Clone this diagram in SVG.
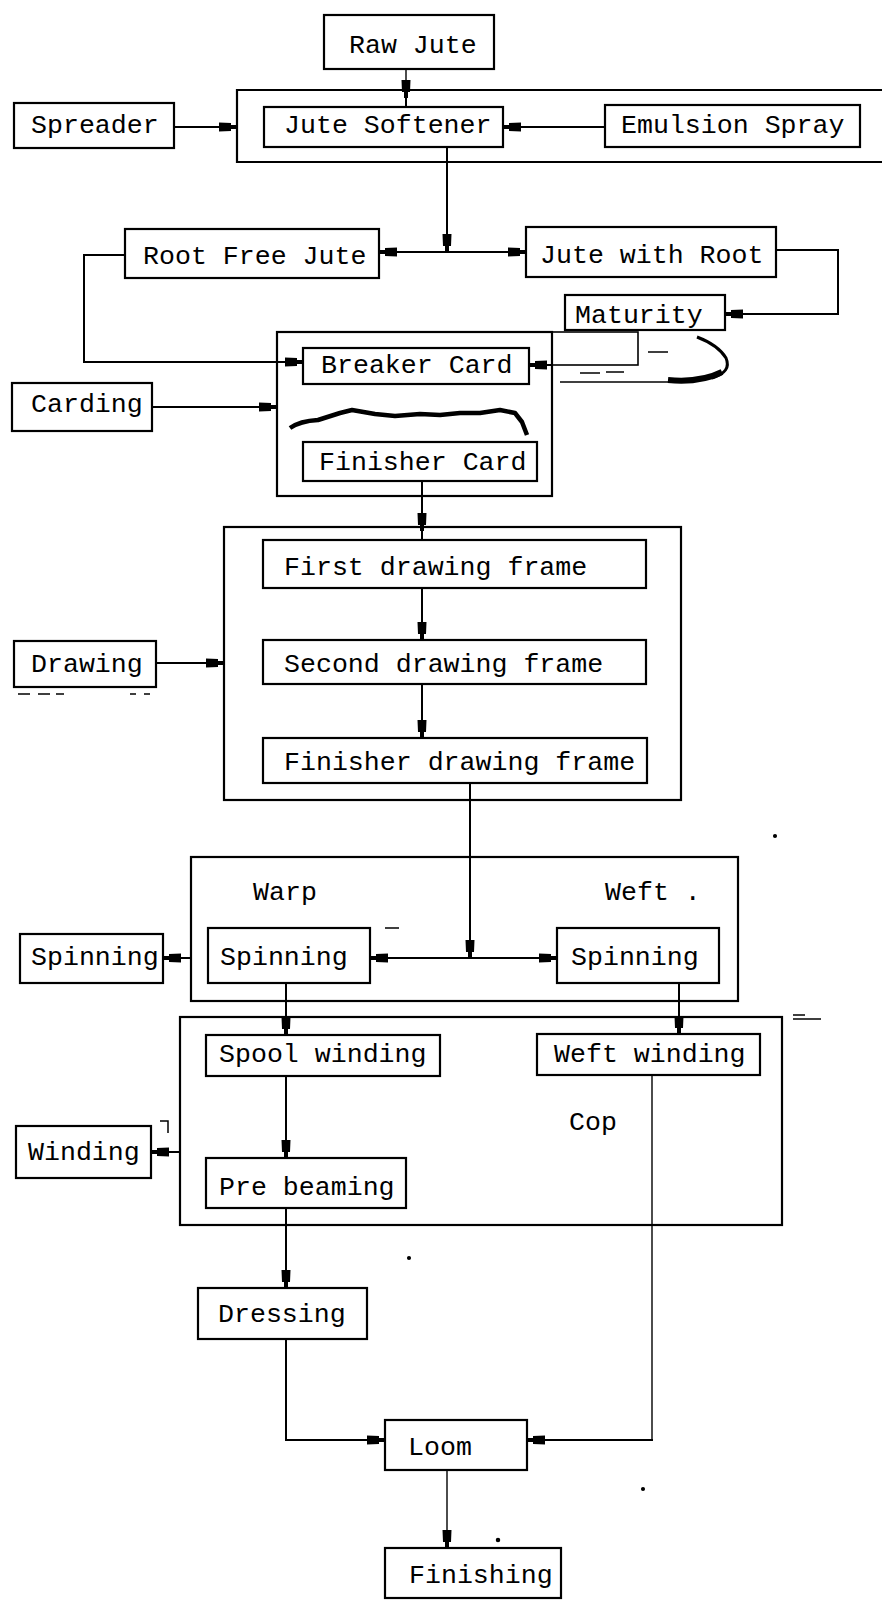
<svg xmlns="http://www.w3.org/2000/svg" width="882" height="1602" viewBox="0 0 882 1602">
<style>
.box{fill:#fff;stroke:#000;stroke-width:2.2}
.grp{fill:none;stroke:#000;stroke-width:2.2}
.t{font-family:"Liberation Mono","DejaVu Sans Mono",monospace;font-size:26.6px;fill:#000}
.c{fill:none;stroke:#000;stroke-width:2}
.thin{fill:none;stroke:#000;stroke-width:1.4}
.n{fill:none;stroke:#000;stroke-width:1.6}
</style>
<defs>
<marker id="a" markerUnits="userSpaceOnUse" markerWidth="20" markerHeight="12" viewBox="0 -6 20 12" refX="18" refY="0" orient="auto">
<path d="M0,-4.5 L12,-4 L12,-2 L18,-2 L18,2 L12,2 L12,4 L0,4.5 Z" fill="#000"/>
</marker>
</defs>
<rect width="882" height="1602" fill="#fff"/>

<!-- group frames -->
<g id="frame-softener"><path class="grp" d="M884,90 H237 V162 H884"/></g>
<g id="frame-carding"><rect class="grp" x="277" y="332" width="275" height="164"/></g>
<g id="frame-drawing"><rect class="grp" x="224" y="527" width="457" height="273"/></g>
<g id="frame-spinning"><rect class="grp" x="191" y="857" width="547" height="144"/></g>
<g id="frame-winding"><rect class="grp" x="180" y="1017" width="602" height="208"/></g>

<!-- nodes -->
<g id="raw-jute"><rect class="box" x="324" y="15" width="170" height="54"/><text class="t" x="349" y="53">Raw Jute</text></g>
<g id="spreader"><rect class="box" x="14" y="103" width="160" height="45"/><text class="t" x="31" y="133">Spreader</text></g>
<g id="jute-softener"><rect class="box" x="264" y="107" width="239" height="40"/><text class="t" x="284" y="133">Jute Softener</text></g>
<g id="emulsion-spray"><rect class="box" x="605" y="105" width="255" height="42"/><text class="t" x="621" y="133">Emulsion Spray</text></g>
<g id="root-free-jute"><rect class="box" x="125" y="229" width="254" height="49"/><text class="t" x="143" y="264">Root Free Jute</text></g>
<g id="jute-with-root"><rect class="box" x="526" y="227" width="250" height="50"/><text class="t" x="540" y="263">Jute with Root</text></g>
<g id="maturity"><rect class="box" x="565" y="295" width="160" height="35"/><text class="t" x="575" y="323">Maturity</text></g>
<g id="breaker-card"><rect class="box" x="303" y="348" width="226" height="36"/><text class="t" x="321" y="373">Breaker Card</text></g>
<g id="carding"><rect class="box" x="12" y="383" width="140" height="48"/><text class="t" x="31" y="412">Carding</text></g>
<g id="finisher-card"><rect class="box" x="303" y="442" width="234" height="39"/><text class="t" x="319" y="470">Finisher Card</text></g>
<g id="first-drawing"><rect class="box" x="263" y="540" width="383" height="48"/><text class="t" x="284" y="575">First drawing frame</text></g>
<g id="drawing"><rect class="box" x="14" y="641" width="142" height="46"/><text class="t" x="31" y="672">Drawing</text></g>
<g id="second-drawing"><rect class="box" x="263" y="640" width="383" height="44"/><text class="t" x="284" y="672">Second drawing frame</text></g>
<g id="finisher-drawing"><rect class="box" x="263" y="738" width="384" height="45"/><text class="t" x="284" y="770">Finisher drawing frame</text></g>
<g id="warp-label"><text class="t" x="253" y="900">Warp</text></g>
<g id="weft-label"><text class="t" x="605" y="900">Weft .</text></g>
<g id="spinning-left"><rect class="box" x="20" y="934" width="143" height="49"/><text class="t" x="31" y="965">Spinning</text></g>
<g id="warp-spinning"><rect class="box" x="208" y="928" width="162" height="55"/><text class="t" x="220" y="965">Spinning</text></g>
<g id="weft-spinning"><rect class="box" x="557" y="928" width="162" height="55"/><text class="t" x="571" y="965">Spinning</text></g>
<g id="spool-winding"><rect class="box" x="206" y="1035" width="234" height="41"/><text class="t" x="219" y="1062">Spool winding</text></g>
<g id="weft-winding"><rect class="box" x="537" y="1034" width="223" height="41"/><text class="t" x="554" y="1062">Weft winding</text></g>
<g id="cop-label"><text class="t" x="569" y="1130">Cop</text></g>
<g id="winding"><rect class="box" x="16" y="1126" width="135" height="52"/><text class="t" x="28" y="1160">Winding</text></g>
<g id="pre-beaming"><rect class="box" x="206" y="1158" width="200" height="50"/><text class="t" x="219" y="1195">Pre beaming</text></g>
<g id="dressing"><rect class="box" x="198" y="1288" width="169" height="51"/><text class="t" x="218" y="1322">Dressing</text></g>
<g id="loom"><rect class="box" x="385" y="1420" width="142" height="50"/><text class="t" x="408" y="1455">Loom</text></g>
<g id="finishing"><rect class="box" x="385" y="1548" width="176" height="50"/><text class="t" x="409" y="1583">Finishing</text></g>

<!-- connectors -->
<g id="connectors">
<path class="thin" d="M406,69 V98" marker-end="url(#a)"/>
<path class="c" d="M406,97 V107"/>
<path class="c" d="M174,127 H237" marker-end="url(#a)"/>
<path class="c" d="M605,127 H503" marker-end="url(#a)"/>
<path class="c" d="M447,147 V252" marker-end="url(#a)"/>
<path class="c" d="M447,252 H379" marker-end="url(#a)"/>
<path class="c" d="M447,252 H526" marker-end="url(#a)"/>
<path class="c" d="M776,250 H838 V314 H725" marker-end="url(#a)"/>
<path class="c" d="M125,255 H84 V362 H303" marker-end="url(#a)"/>
<rect class="n" x="552" y="332" width="86" height="33"/>
<path class="c" d="M552,365 H529" marker-end="url(#a)"/>
<path class="n" d="M560,382 H672"/>
<path fill="none" stroke="#000" stroke-width="3" d="M697,337 Q718,345 726,358 Q732,372 712,378"/>
<path fill="none" stroke="#000" stroke-width="6" d="M668,380 Q700,383 722,372"/>
<path fill="none" stroke="#000" stroke-width="4.5" stroke-linejoin="round" d="M290,428 Q300,421 318,420 L340,413 L352,410 L375,414 L395,416 L420,414 L440,415 L460,413 L480,413 L500,410 L515,413 L522,422 L527,435"/>
<path class="c" d="M152,407 H277" marker-end="url(#a)"/>
<path class="c" d="M422,481 V531" marker-end="url(#a)"/>
<path class="c" d="M422,530 V540"/>
<path class="c" d="M422,588 V640" marker-end="url(#a)"/>
<path class="c" d="M422,684 V738" marker-end="url(#a)"/>
<path class="c" d="M156,663 H224" marker-end="url(#a)"/>
<path class="c" d="M470,783 V958" marker-end="url(#a)"/>
<path class="c" d="M470,958 H370" marker-end="url(#a)"/>
<path class="c" d="M470,958 H557" marker-end="url(#a)"/>
<path class="c" d="M191,958 H163" marker-end="url(#a)"/>
<path class="c" d="M286,983 V1035" marker-end="url(#a)"/>
<path class="c" d="M679,983 V1034" marker-end="url(#a)"/>
<path class="c" d="M286,1076 V1158" marker-end="url(#a)"/>
<path class="c" d="M180,1152 H151" marker-end="url(#a)"/>
<path class="c" d="M286,1208 V1288" marker-end="url(#a)"/>
<path class="c" d="M286,1339 V1440 H385" marker-end="url(#a)"/>
<path class="thin" d="M652,1075 V1440"/>
<path class="c" d="M653,1440 H527" marker-end="url(#a)"/>
<path class="thin" d="M447,1470 V1548" marker-end="url(#a)"/>
</g>

<!-- specks -->
<g id="specks" stroke="#000" stroke-width="1.5" fill="none">
<path d="M580,373 H600 M606,372 H624 M648,352 H668"/>
<path d="M18,694 H30 M38,694 H50 M56,694 H64 M130,694 H136 M144,694 H150"/>
<path d="M385,928 H399 M793,1019 H821 M793,1015 H805"/>
<path d="M160,1121 H168 V1133"/>
<circle cx="775" cy="836" r="1.3" fill="#000"/>
<circle cx="409" cy="1258" r="1.3" fill="#000"/>
<circle cx="643" cy="1489" r="1.3" fill="#000"/>
<circle cx="498" cy="1540" r="1.5" fill="#000"/>
</g>
</svg>
